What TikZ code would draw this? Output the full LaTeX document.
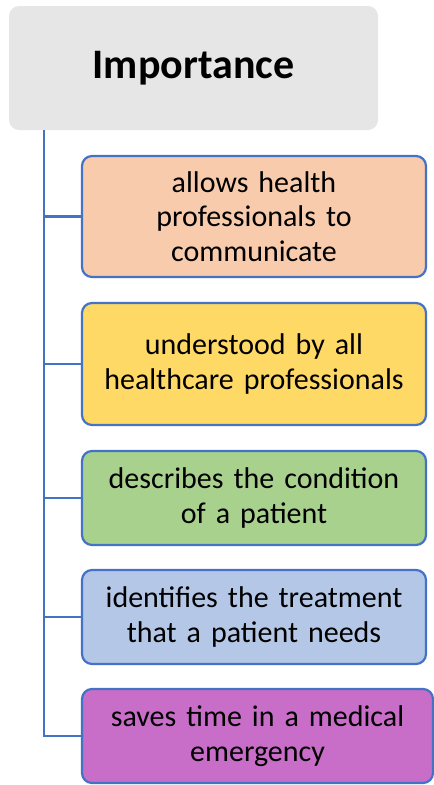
\documentclass[tikz,border=0pt]{standalone}
\usepackage{fontspec}
\setmainfont{Carlito}
\definecolor{edgeblue}{HTML}{4472C4}
\definecolor{headgray}{HTML}{E7E6E6}
\definecolor{peach}{HTML}{F8CBAD}
\definecolor{gold}{HTML}{FFD966}
\definecolor{leaf}{HTML}{A9D18E}
\definecolor{sky}{HTML}{B4C7E7}
\definecolor{orchid}{HTML}{C86DC8}
\begin{document}
\begin{tikzpicture}[x=1pt,y=-1pt,
    item/.style={draw=edgeblue, line width=2.2pt, rounded corners=10pt,
      minimum width=344pt, text width=340pt, align=center, inner sep=0pt,
      font=\fontsize{30}{34.5}\selectfont},
    branch/.style={draw=edgeblue, line width=2.2pt}]
    \useasboundingbox (0,0) rectangle (434,785);
    \node[fill=headgray, rounded corners=10pt, minimum width=369pt,
      minimum height=124pt, font=\bfseries\fontsize{42}{48}\selectfont]
      (imp) at (193.5,68) {Importance};

    \node[item, fill=peach, minimum height=121pt] (talk) at (254,216.5)
      {allows health\\professionals to\\communicate};
    \node[item, fill=gold, minimum height=122pt] (staff) at (254,364)
      {understood by all\\healthcare professionals};
    \node[item, fill=leaf, minimum height=94pt] (cond) at (254,498)
      {describes the condition\\of a patient};
    \node[item, fill=sky, minimum height=94pt] (treat) at (254,617)
      {identifies the treatment\\that a patient needs};
    \node[item, fill=orchid, minimum height=94pt, minimum width=351pt] (save) at (257.5,736)
      {saves time in a medical\\emergency};

    \coordinate (top) at (44,130);
    \draw[branch] (top) |- (save.west);
    \foreach \n in {talk, staff, cond, treat}
      \draw[branch] (\n.west -| top) -- (\n.west);
\end{tikzpicture}
\end{document}
